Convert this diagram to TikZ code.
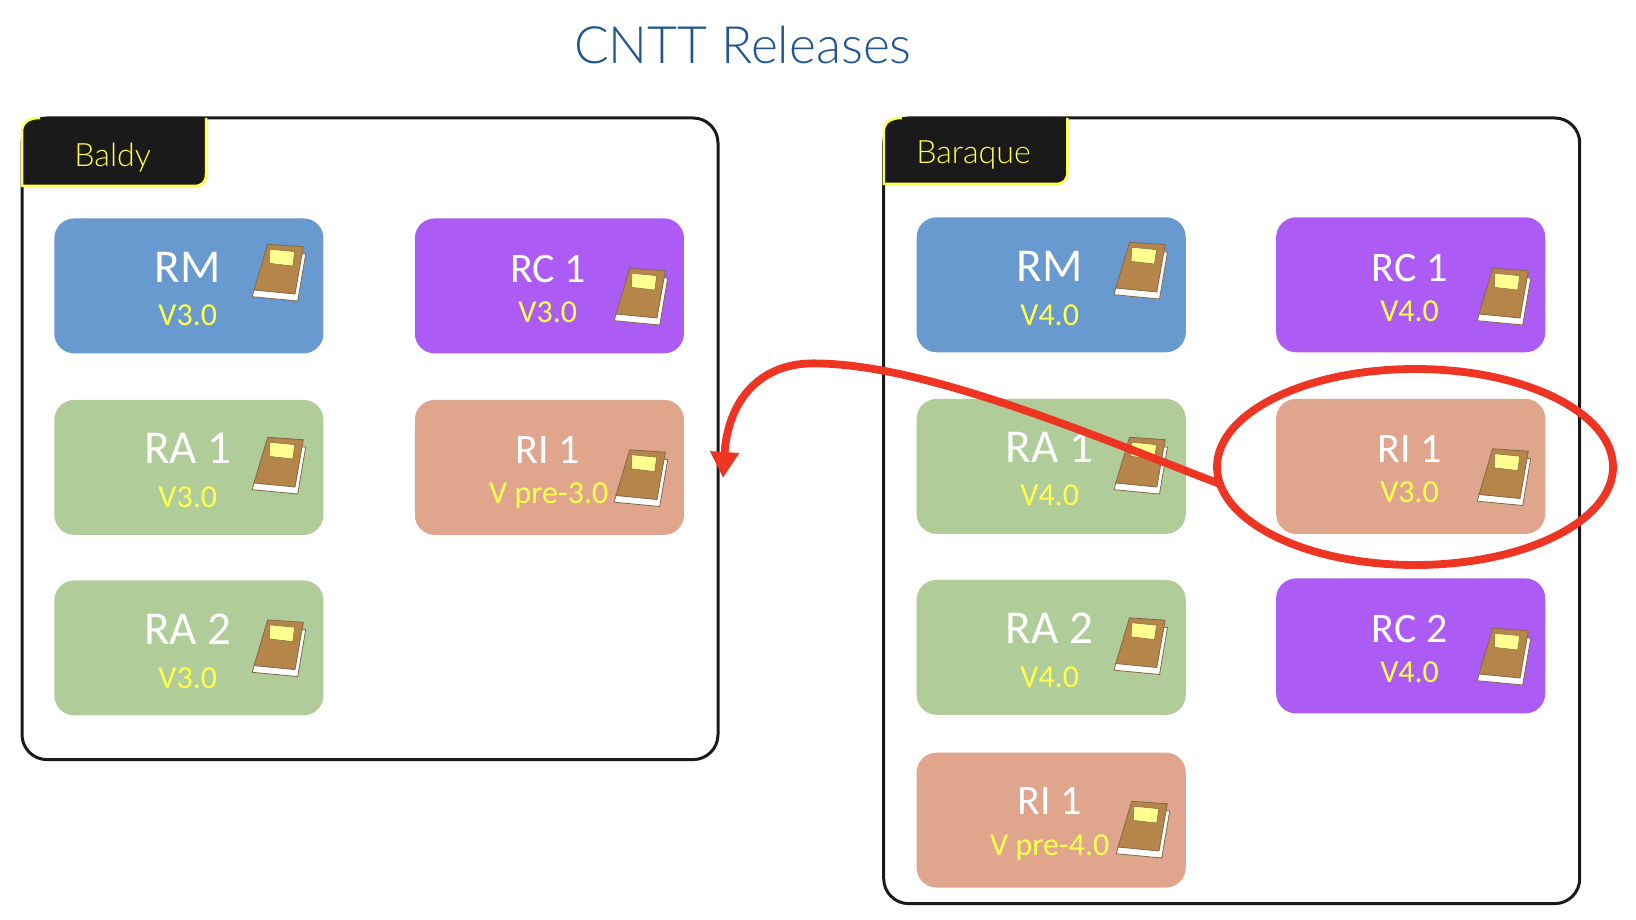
\documentclass[tikz,border=0pt]{standalone}
\usepackage{fontspec}
\setmainfont{Carlito}
\newfontfamily\gillfont{Lato Light}
\usetikzlibrary{arrows.meta,shapes.geometric}

\definecolor{rmblue}{HTML}{6899CF}
\definecolor{rcpurple}{HTML}{AC5CF5}
\definecolor{ragreen}{HTML}{AFCC99}
\definecolor{risalmon}{HTML}{E0A58D}
\definecolor{veryellow}{HTML}{FFFF4D}
\definecolor{markred}{HTML}{EE3524}
\definecolor{titleblue}{HTML}{1F5591}
\definecolor{framedark}{HTML}{1A1A1A}
\definecolor{bookbrown}{HTML}{B5854A}
\definecolor{bookedge}{HTML}{85694A}
\definecolor{booklabel}{HTML}{FFFF8F}

\tikzset{
  framebox/.style={draw=framedark,line width=1.8pt,rounded corners=15pt,minimum width=417.6pt,inner sep=0pt},
  tabshape/.style={draw=veryellow,fill=framedark,line width=1.5pt},
  tabtext/.style={text=veryellow,font=\gillfont\fontsize{19.3}{23}\selectfont,text depth=0pt,inner sep=0pt},
  relbox/.style={rounded corners=12pt,minimum width=161.5pt,minimum height=81pt,inner sep=0pt},
  bigname/.style={text=white,font=\fontsize{28.3}{32}\selectfont,inner sep=0pt},
  midname/.style={text=white,font=\fontsize{25.2}{30}\selectfont,inner sep=0pt},
  vername/.style={text=veryellow,font=\fontsize{19.2}{23}\selectfont,text depth=0pt,inner sep=0pt},
  markline/.style={draw=markred,line width=4.7pt},
  bookicon/.pic={
    \begin{scope}[yscale=-1]
    \draw [fill=white,draw=bookedge,line width=0.5pt] (21.7,-21) -- (25.7,-21) -- (17.7,26) -- (-27.7,21.7) -- (-26,15) -- cycle ;
    \draw [fill=bookbrown,draw=bookedge,line width=0.5pt] (-12.3,-30.7) -- (23.3,-28.3) -- (15,19) -- (-26,15) -- cycle ;
    \draw [fill=booklabel,draw=bookedge,line width=0.3pt] (-10,-25.7) -- (14.7,-23.3) -- (12.7,-9) -- (-10.7,-11.7) -- cycle ;
    \end{scope}
  }
}

\begin{document}
\begin{tikzpicture}[x=0.6pt,y=0.6pt,yscale=-1,xscale=1]
\useasboundingbox (0,0) rectangle (1636,920);

% Text Node
\node (title) [text=titleblue,font=\gillfont\fontsize{30.9}{36}\selectfont,inner sep=0pt] at (742.9,45) {CNTT Releases};

%Shape: Frames
\node (baldyframe) [framebox,minimum height=385pt] at (370,438.8) {};
\node (baraqueframe) [framebox,minimum height=471.4pt] at (1231.7,510.8) {};

%Shape: Tabs
\draw [tabshape] (206,118) -- (206,174) .. controls (206,182) and (202,186) .. (194,186) -- (22,186) -- (22,132) .. controls (22,123) and (28,118) .. (40,118) ;
\draw [tabshape] (1067.4,118) -- (1067.4,172) .. controls (1067.4,180) and (1063.4,184) .. (1055.4,184) -- (883.8,184) -- (883.8,132) .. controls (883.8,123) and (889.8,118) .. (901.8,118) ;
% Text Node
\node (baldytab) [tabtext] at (112.7,154.4) {Baldy};
\node (baraquetab) [tabtext] at (973.5,152.3) {Baraque};

%Shape: Baldy boxes
\node (baldyrm) [relbox,fill=rmblue] at (188.9,285.9) {};
\node (baldyrc) [relbox,fill=rcpurple] at (549.4,285.9) {};
\node (baldyraone) [relbox,fill=ragreen] at (188.9,467.4) {};
\node (baldyri) [relbox,fill=risalmon] at (549.4,467.4) {};
\node (baldyratwo) [relbox,fill=ragreen] at (188.9,647.9) {};

%Shape: Baraque boxes
\node (baraquerm) [relbox,fill=rmblue] at (1051.2,284.8) {};
\node (baraquerc) [relbox,fill=rcpurple] at (1410.7,284.8) {};
\node (baraqueraone) [relbox,fill=ragreen] at (1051.2,466.4) {};
\node (baraqueri) [relbox,fill=risalmon] at (1410.7,466.4) {};
\node (baraqueratwo) [relbox,fill=ragreen] at (1051.2,647.4) {};
\node (baraquerctwo) [relbox,fill=rcpurple] at (1410.7,645.9) {};
\node (baraqueritwo) [relbox,fill=risalmon] at (1051.2,820.1) {};

% Text Node
\node (baldyrmname) [bigname] at (187.8,267.1) {RM};
\node (baldyrmver) [vername] at (187.8,315.1) {V3.0};
\node (baldyrcname) [midname] at (547.8,269.2) {RC 1};
\node (baldyrcver) [vername] at (547.8,312) {V3.0};
\node (baldyraonename) [bigname] at (187.8,448.7) {RA 1};
\node (baldyraonever) [vername] at (187.8,496.7) {V3.0};
\node (baldyriname) [midname] at (547.8,449.7) {RI 1};
\node (baldyriver) [vername] at (548.8,493.5) {V pre-3.0};
\node (baldyratwoname) [bigname] at (187.8,629.2) {RA 2};
\node (baldyratwover) [vername] at (187.8,678.2) {V3.0};

% Text Node
\node (baraquermname) [bigname] at (1049.7,266.1) {RM};
\node (baraquermver) [vername] at (1049.7,315.1) {V4.0};
\node (baraquercname) [midname] at (1409.6,268.2) {RC 1};
\node (baraquercver) [vername] at (1409.6,310.9) {V4.0};
\node (baraqueraonename) [bigname] at (1049.7,447.6) {RA 1};
\node (baraqueraonever) [vername] at (1049.7,495.6) {V4.0};
\node (baraqueriname) [midname] at (1409.6,448.7) {RI 1};
\node (baraqueriver) [vername] at (1409.6,492.5) {V3.0};
\node (baraqueratwoname) [bigname] at (1049.7,628.1) {RA 2};
\node (baraqueratwover) [vername] at (1049.7,677.2) {V4.0};
\node (baraquerctwoname) [midname] at (1409.6,629.2) {RC 2};
\node (baraquerctwover) [vername] at (1409.6,671.9) {V4.0};
\node (baraqueritwoname) [midname] at (1049.7,801.3) {RI 1};
\node (baraqueritwover) [vername] at (1049.7,845.2) {V pre-4.0};

%Shape: Books
\pic at (280,275) {bookicon};
\pic at (642,299) {bookicon};
\pic at (280,468) {bookicon};
\pic at (642,480.5) {bookicon};
\pic at (280,650.6) {bookicon};
\pic at (1141.8,273) {bookicon};
\pic at (1505,299) {bookicon};
\pic at (1141.8,468) {bookicon};
\pic at (1505,479.5) {bookicon};
\pic at (1141.8,648.5) {bookicon};
\pic at (1505,659) {bookicon};
\pic at (1144,832) {bookicon};

%Shape: Ellipse
\node (markellipse) [markline,ellipse,minimum width=237.6pt,minimum height=117.6pt,inner sep=0pt,outer sep=0pt] at (1415,467) {};

%Straight Lines
\coordinate (arrowend) at (723,478);
\draw [markline,-{Triangle[length=15.6pt,width=16.5pt]}] (markellipse.185) .. controls (1080,430) and (920,363) .. (812.6,363.4) .. controls (760,363.6) and (728,400) .. (arrowend) ;

\end{tikzpicture}
\end{document}
